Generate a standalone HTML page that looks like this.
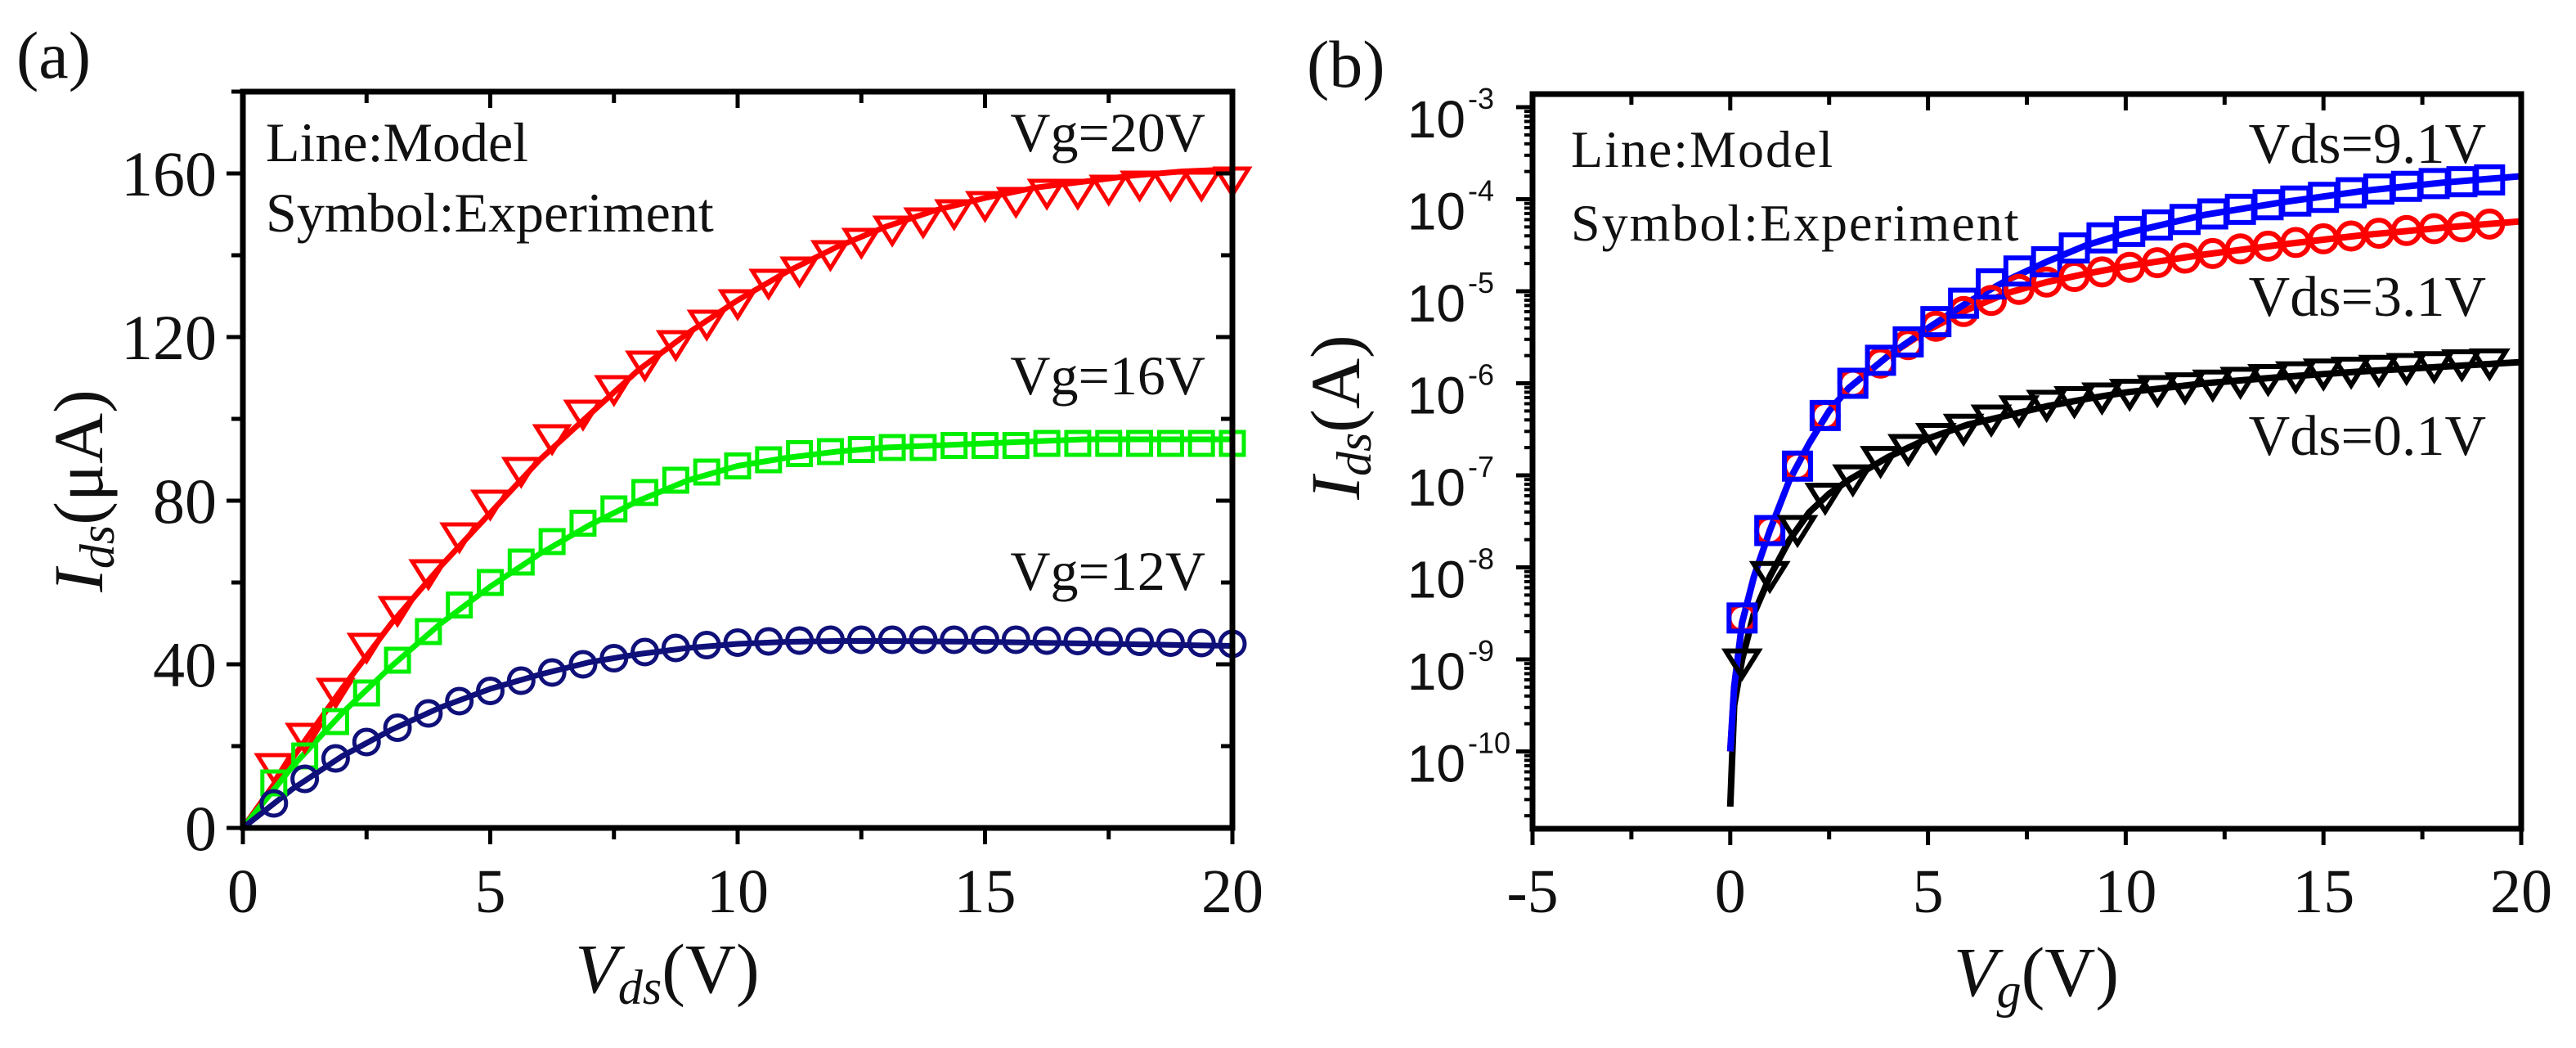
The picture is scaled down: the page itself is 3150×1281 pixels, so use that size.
<!DOCTYPE html>
<html><head><meta charset="utf-8"><style>
html,body{margin:0;padding:0;background:#fff;}
svg{display:block;}
text{font-family:"Liberation Serif",serif;fill:#111;}
</style></head><body>
<svg id="fig" width="3150" height="1281" viewBox="0 0 3150 1281" xmlns="http://www.w3.org/2000/svg">
<g id="pa"></g>
<g id="pb"></g>
</svg>
<script>
// ---------- Panel (a) data ----------
const aExpX = [0.625,1.25,1.875,2.5,3.125,3.75,4.375,5,5.625,6.25,6.875,7.5,8.125,8.75,9.375,10,10.625,11.25,11.875,12.5,13.125,13.75,14.375,15,15.625,16.25,16.875,17.5,18.125,18.75,19.375,20];
const aRedExp = [14.6,22,33,44,53,62,71,79,87,95,101,107,113,118,123,128,133,136,140,143,146,148,150,152,153,155,155,156,157,157,157,158];
const aGreenExp = [11,17.6,26,33,41,48,54.5,60,65,70,74.5,78,82,85,87,88.5,90,91.5,92,92.5,93,93,93.5,93.5,93.5,94,94,94,94,94,94,94];
const aNavyExp = [6,12,17,21,24.5,28,31,33.5,36,38,40,41.5,43,44,44.7,45.3,45.6,45.8,46,46,46,46,46,46,46,45.8,45.7,45.6,45.5,45.3,45.2,45];
const aModelX = [0,1,2,3,4,5,6,7,8,9,10,11,12,13,14,15,16,17,18,19,20];
const aRedModel = [0,17,34,50,64,77,90,101,112,121,129,136,142,147,151,154,156.5,158,159.5,160.5,161];
const aGreenModel = [0,15,28,39.5,50,59,67,74,80,85,88.5,90.5,92,93,93.5,94,94.5,95,95,95,95];
const aNavyModel = [0,9.5,17.5,24,29.5,34,37.5,40.5,42.5,44,45,45.5,45.7,45.7,45.6,45.5,45.3,45.1,44.9,44.7,44.5];
const aXTicks = [0,5,10,15,20];
const aYTicks = [0,40,80,120,160];

// ---------- Panel (b) data ----------
const bExpX = [0.3,1.0,1.7,2.4,3.1,3.8,4.5,5.2,5.9,6.6,7.3,8.0,8.7,9.4,10.1,10.8,11.5,12.2,12.9,13.6,14.3,15.0,15.7,16.4,17.1,17.8,18.5,19.2];
const bBlueExp = [-8.55,-7.6,-6.9,-6.35,-6.0,-5.75,-5.55,-5.33,-5.13,-4.92,-4.78,-4.68,-4.53,-4.42,-4.35,-4.28,-4.22,-4.16,-4.11,-4.06,-4.02,-3.98,-3.93,-3.89,-3.86,-3.83,-3.81,-3.79];
const bRedExp = [-8.55,-7.6,-6.9,-6.35,-6.0,-5.78,-5.58,-5.38,-5.22,-5.1,-4.98,-4.9,-4.84,-4.79,-4.74,-4.69,-4.64,-4.59,-4.54,-4.51,-4.47,-4.43,-4.40,-4.37,-4.34,-4.32,-4.30,-4.27];
const bBlackExp = [-9.05,-8.1,-7.6,-7.25,-7.05,-6.85,-6.72,-6.6,-6.5,-6.4,-6.3,-6.24,-6.2,-6.16,-6.12,-6.08,-6.05,-6.02,-5.99,-5.96,-5.93,-5.9,-5.88,-5.86,-5.84,-5.82,-5.8,-5.79];
const bModelX = [0,0.1,0.3,0.6,1,1.5,2,2.5,3,4,5,6,7,8,9,10,12,14,16,18,20];
const bBlueModel = [-10.0,-9.3,-8.6,-8.1,-7.6,-7.05,-6.65,-6.3,-6.05,-5.7,-5.4,-5.12,-4.88,-4.68,-4.5,-4.37,-4.17,-4.03,-3.91,-3.82,-3.75];
const bRedModel = [-10.0,-9.3,-8.6,-8.1,-7.6,-7.05,-6.65,-6.3,-6.05,-5.7,-5.42,-5.2,-5.02,-4.9,-4.81,-4.73,-4.6,-4.49,-4.39,-4.31,-4.24];
const bBlackModel = [-10.6,-9.5,-9.0,-8.5,-8.1,-7.7,-7.4,-7.2,-7.05,-6.8,-6.6,-6.45,-6.35,-6.25,-6.17,-6.1,-6.0,-5.93,-5.87,-5.82,-5.77];
const bXTicks = [-5,0,5,10,15,20];
const bYDecades = [-3,-4,-5,-6,-7,-8,-9,-10];

const NS = "http://www.w3.org/2000/svg";
function mk(parent, tag, attrs){
  const e = document.createElementNS(NS, tag);
  for (const k in attrs) e.setAttribute(k, attrs[k]);
  parent.appendChild(e); return e;
}

// ---------- Panel A ----------
const pa = document.getElementById('pa');
const aL=297, aR=1507, aT=112, aB=1012;
const ax = v => aL + (v-0)/(20-0)*(aR-aL);
const ay = v => aB - v/180*(aB-aT);

function aPath(xs, ys, color, name){
  let d = xs.map((x,i)=>(i?'L':'M')+ax(x).toFixed(1)+','+ay(ys[i]).toFixed(1)).join(' ');
  const p = mk(pa,'path',{d:d,fill:'none',stroke:color,'stroke-width':7,'stroke-linejoin':'round'});
  
  
}
function tri(g, cx, cy, s, color, sw){
  const h = s*0.8;
  return mk(g,'path',{d:`M${cx-s/2},${cy-h/2} L${cx+s/2},${cy-h/2} L${cx},${cy+h/2} Z`,fill:'none',stroke:color,'stroke-width':sw,'stroke-linejoin':'miter'});
}
function sq(g, cx, cy, s, color, sw){
  return mk(g,'rect',{x:cx-s/2,y:cy-s/2,width:s,height:s,fill:'none',stroke:color,'stroke-width':sw});
}
function circ(g, cx, cy, r, color, sw){
  return mk(g,'circle',{cx:cx,cy:cy,r:r,fill:'none',stroke:color,'stroke-width':sw});
}

aPath(aModelX, aRedModel, '#ff0000', 'model-line-vg20');
aPath(aModelX, aGreenModel, '#00ee00', 'model-line-vg16');
aPath(aModelX, aNavyModel, '#10107a', 'model-line-vg12');

aExpX.forEach((x,i)=>{
  const m = tri(pa, ax(x), ay(aRedExp[i]), 40, '#ff0000', 5);
  
  
  const s = sq(pa, ax(x), ay(aGreenExp[i]), 28, '#00ee00', 5);
  
  
  const c = circ(pa, ax(x), ay(aNavyExp[i]), 15, '#10107a', 5);
  
  
});

mk(pa,'rect',{x:aL,y:aT,width:aR-aL,height:aB-aT,fill:'none',stroke:'#000','stroke-width':7});
for (let v=0; v<=20; v+=2.5){
  const major = (v%5===0);
  mk(pa,'line',{x1:ax(v),y1:aB,x2:ax(v),y2:aB+(major?20:14),stroke:'#000','stroke-width':5});
  mk(pa,'line',{x1:ax(v),y1:aT,x2:ax(v),y2:aT+(major?20:14),stroke:'#000','stroke-width':5});
}
aXTicks.forEach(v=>{
  const t = mk(pa,'text',{x:ax(v),y:1115,'text-anchor':'middle','font-size':76});
  t.textContent = v;
  
  
});
for (let v=0; v<=180; v+=20){
  const major = (v%40===0);
  mk(pa,'line',{x1:aL,y1:ay(v),x2:aL-(major?20:14),y2:ay(v),stroke:'#000','stroke-width':5});
  mk(pa,'line',{x1:aR,y1:ay(v),x2:aR-(major?20:14),y2:ay(v),stroke:'#000','stroke-width':5});
}
aYTicks.forEach(v=>{
  const t = mk(pa,'text',{x:265,y:ay(v)+27,'text-anchor':'end','font-size':78});
  t.textContent = v;
  
  
});
</script>
<script>
(function(){
const pa = document.getElementById('pa');
pa.insertAdjacentHTML('beforeend', `
<text x="20" y="95" font-size="82">(a)</text>
<text x="325" y="197" font-size="68">Line:Model</text>
<text x="325" y="283" font-size="68">Symbol:Experiment</text>
<text x="1474" y="185" font-size="68" text-anchor="end">Vg=20V</text>
<text x="1474" y="482" font-size="68" text-anchor="end">Vg=16V</text>
<text x="1474" y="721" font-size="68" text-anchor="end">Vg=12V</text>
<text x="816" y="1213" font-size="86" text-anchor="middle"><tspan font-style="italic">V</tspan><tspan font-style="italic" font-size="60" dy="14">ds</tspan><tspan dy="-14">(V)</tspan></text>
<text transform="translate(125,600) rotate(-90)" font-size="86" text-anchor="middle"><tspan font-style="italic">I</tspan><tspan font-style="italic" font-size="60" dy="14">ds</tspan><tspan dy="-14">(μA)</tspan></text>
`);
})();

// ---------- Panel B ----------
const pb = document.getElementById('pb');
const bL=1874, bR=3083, bT=115, bB=1013;
const bx = v => bL + (v+5)/25*(bR-bL);
const by = lg => 131 + (-3 - lg)*112.5;

function bPath(xs, ys, color, name){
  let d = xs.map((x,i)=>(i?'L':'M')+bx(x).toFixed(1)+','+by(ys[i]).toFixed(1)).join(' ');
  const p = mk(pb,'path',{d:d,fill:'none',stroke:color,'stroke-width':8,'stroke-linejoin':'round'});
  
  
}
bPath(bModelX, bBlackModel, '#000000', 'model-line-vds0p1');
bPath(bModelX, bRedModel, '#ff0000', 'model-line-vds3p1');
bPath(bModelX, bBlueModel, '#0000ff', 'model-line-vds9p1');

bExpX.forEach((x,i)=>{
  const t = tri(pb, bx(x), by(bBlackExp[i]), 40, '#000', 6);
  
  
  const c = circ(pb, bx(x), by(bRedExp[i]), 16, '#ff0000', 6);
  
  
  const s = sq(pb, bx(x), by(bBlueExp[i]), 32, '#0000ff', 6);
  
  
});

mk(pb,'rect',{x:bL,y:bT,width:bR-bL,height:bB-bT,fill:'none',stroke:'#000','stroke-width':7});
for (let v=-5; v<=20; v+=2.5){
  const major = (v%5===0);
  mk(pb,'line',{x1:bx(v),y1:bB,x2:bx(v),y2:bB+(major?20:13),stroke:'#000','stroke-width':5});
  mk(pb,'line',{x1:bx(v),y1:bT,x2:bx(v),y2:bT+(major?20:13),stroke:'#000','stroke-width':5});
}
bXTicks.forEach(v=>{
  const t = mk(pb,'text',{x:bx(v),y:1115,'text-anchor':'middle','font-size':76});
  t.textContent = v<0 ? '-'+Math.abs(v) : v;
  
  
});
for (let d=-11; d<=-3; d++){
  for (let k=1;k<=9;k++){
    const lg = d + Math.log10(k);
    const yy = by(lg);
    if (yy < bT-1 || yy > bB+1) continue;
    mk(pb,'line',{x1:bL,y1:yy,x2:bL-(k===1?20:10),y2:yy,stroke:'#000','stroke-width':k===1?5:4});
  }
}
bYDecades.forEach(d=>{
  const t = mk(pb,'text',{x:1792,y:by(d)+37,'text-anchor':'end','font-size':64});
  t.style.fontFamily = '"Liberation Sans", sans-serif';
  t.textContent = '10';
  
  
  const e = mk(pb,'text',{x:1795,y:by(d)+2,'font-size':36});
  e.style.fontFamily = '"Liberation Sans", sans-serif';
  e.textContent = String(d);
  
  
});
pb.insertAdjacentHTML('beforeend', `
<text x="1598" y="106" font-size="82">(b)</text>
<text x="1921" y="204" font-size="64" letter-spacing="2">Line:Model</text>
<text x="1921" y="294" font-size="64" letter-spacing="2">Symbol:Experiment</text>
<text x="3040" y="199" font-size="70" text-anchor="end">Vds=9.1V</text>
<text x="3040" y="386" font-size="70" text-anchor="end">Vds=3.1V</text>
<text x="3040" y="556" font-size="70" text-anchor="end">Vds=0.1V</text>
<text x="2490" y="1217" font-size="86" text-anchor="middle"><tspan font-style="italic">V</tspan><tspan font-style="italic" font-size="60" dy="14">g</tspan><tspan dy="-14">(V)</tspan></text>
<text transform="translate(1662,510) rotate(-90)" font-size="86" text-anchor="middle"><tspan font-style="italic">I</tspan><tspan font-style="italic" font-size="60" dy="14">ds</tspan><tspan dy="-14">(A)</tspan></text>
`);
</script>
</body></html>
